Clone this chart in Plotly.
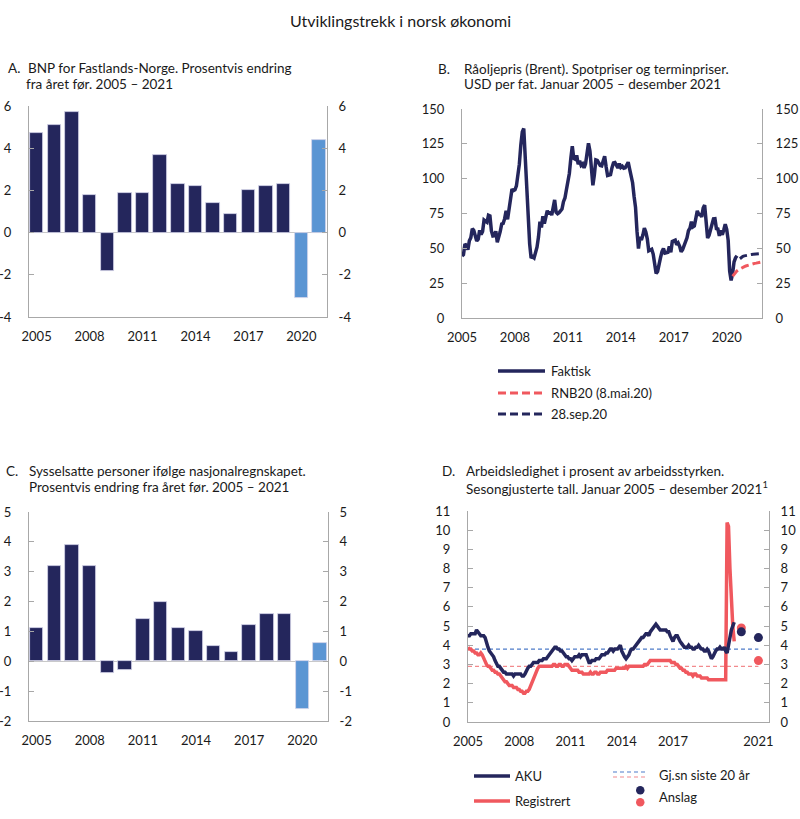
import plotly.graph_objects as go

W, H = 800, 819
FONT = "Lato"
NAVY = "#24265c"
LIGHT = "#5b95d3"
RED = "#f0585e"
AXC = "#a8a8a8"
TXT = "#1a1a1a"

# ---------------- data ----------------
years = list(range(2005, 2022))
bnp = [4.7, 5.1, 5.7, 1.8, -1.8, 1.9, 1.9, 3.7, 2.3, 2.2, 1.4, 0.9, 2.0, 2.2, 2.3, -3.1, 4.4]
sysselsatte = [1.1, 3.2, 3.9, 3.2, -0.4, -0.3, 1.4, 2.0, 1.1, 1.0, 0.5, 0.3, 1.2, 1.6, 1.6, -1.6, 0.6]
forecast_years = [2020, 2021]
ticks_a = [-4, -2, 0, 2, 4, 6]
ticks_c = [-2, -1, 0, 1, 2, 3, 4, 5]

brent_2005 = [44.5, 45.5, 53.1, 51.9, 49.0, 55.4, 57.6, 64.1, 62.9, 58.5, 55.3, 56.6]
brent_2006 = [62.9, 60.0, 62.1, 70.3, 69.8, 68.7, 73.7, 73.2, 62.5, 58.9, 59.1, 62.3]
brent_2007 = [54.3, 57.8, 62.1, 67.5, 67.9, 71.3, 77.0, 70.8, 77.2, 82.4, 92.5, 91.4]
brent_2008 = [92.0, 94.8, 103.3, 110.4, 124.0, 133.5, 136.0, 113.9, 99.1, 72.8, 53.2, 43.0]
brent_2009 = [44.0, 43.1, 46.8, 50.8, 58.1, 69.1, 65.0, 73.0, 67.7, 73.2, 77.0, 74.7]
brent_2010 = [76.2, 73.8, 78.8, 84.8, 75.9, 74.8, 75.6, 77.1, 78.2, 83.5, 86.1, 92.0]
brent_2011 = [96.5, 103.7, 114.6, 123.3, 114.5, 113.9, 116.7, 110.4, 112.8, 109.6, 110.6, 107.7]
brent_2012 = [110.6, 119.7, 125.4, 119.8, 110.3, 95.2, 102.6, 113.4, 113.0, 111.5, 109.5, 109.2]
brent_2013 = [112.3, 116.1, 108.5, 102.3, 102.6, 102.9, 107.9, 111.3, 111.6, 109.1, 107.8, 110.8]
brent_2014 = [108.1, 108.9, 107.5, 107.8, 109.5, 111.8, 106.8, 101.6, 97.1, 87.4, 79.4, 62.3]
brent_2015 = [49.8, 58.1, 55.9, 59.5, 64.6, 61.7, 56.8, 48.2, 48.5, 49.3, 45.9, 38.9]
brent_2016 = [31.9, 33.4, 39.8, 43.3, 47.7, 49.9, 46.6, 47.2, 47.2, 51.4, 47.1, 54.9]
brent_2017 = [55.5, 55.9, 52.5, 53.8, 51.4, 47.6, 49.1, 51.9, 55.2, 57.5, 62.7, 64.4]
brent_2018 = [69.1, 65.3, 66.0, 72.1, 76.9, 74.4, 74.3, 72.5, 78.9, 81.0, 64.8, 57.4]
brent_2019 = [59.4, 64.0, 66.1, 71.2, 71.3, 64.2, 63.9, 59.0, 62.8, 59.7, 63.2, 67.3]
brent_2020 = [63.6, 55.7, 33.7, 27.0, 32.0, 40.3, 43.2, 44.7]
# forward curves
rnb20 = [30.0, 31.5, 32.8, 33.8, 34.6, 35.3, 35.9, 36.4, 36.9, 37.3,
         37.7, 38.0, 38.3, 38.6, 38.9, 39.2, 39.4, 39.7, 39.9, 40.1]   # May 2020 - Dec 2021
sep20 = [42.5, 43.5, 44.2, 44.6, 44.9, 45.1, 45.3, 45.5, 45.6, 45.7,
         45.8, 45.9, 46.0, 46.1, 46.2]                                  # Oct 2020 - Dec 2021

aku_2005 = [4.5, 4.5, 4.6, 4.6, 4.6, 4.6, 4.8, 4.7, 4.6, 4.5, 4.5, 4.5]
aku_2006 = [4.4, 4.1, 3.9, 3.7, 3.6, 3.5, 3.4, 3.2, 3.0, 2.9, 2.9, 2.8]
aku_2007 = [2.7, 2.6, 2.6, 2.5, 2.5, 2.5, 2.5, 2.5, 2.4, 2.5, 2.5, 2.5]
aku_2008 = [2.5, 2.5, 2.4, 2.4, 2.5, 2.7, 2.8, 2.9, 2.9, 3.0, 3.1, 3.1]
aku_2009 = [3.1, 3.1, 3.2, 3.2, 3.2, 3.3, 3.3, 3.3, 3.4, 3.5, 3.6, 3.7]
aku_2010 = [3.8, 3.9, 3.9, 3.8, 3.8, 3.7, 3.7, 3.6, 3.5, 3.4, 3.4, 3.3]
aku_2011 = [3.3, 3.2, 3.3, 3.4, 3.4, 3.4, 3.5, 3.4, 3.5, 3.5, 3.5, 3.5]
aku_2012 = [3.3, 3.1, 3.1, 3.2, 3.2, 3.2, 3.3, 3.3, 3.3, 3.4, 3.5, 3.5]
aku_2013 = [3.5, 3.6, 3.6, 3.7, 3.8, 3.8, 3.7, 3.8, 3.8, 3.8, 3.9, 4.0]
aku_2014 = [3.7, 3.5, 3.4, 3.3, 3.4, 3.5, 3.7, 3.8, 3.8, 3.9, 4.0, 4.1]
aku_2015 = [4.2, 4.3, 4.4, 4.4, 4.5, 4.6, 4.6, 4.5, 4.7, 4.8, 4.9, 5.0]
aku_2016 = [5.1, 5.0, 4.9, 4.8, 4.8, 4.8, 4.8, 4.8, 4.7, 4.7, 4.5, 4.3]
aku_2017 = [4.2, 4.4, 4.5, 4.5, 4.3, 4.2, 4.1, 4.0, 3.9, 3.9, 3.9, 4.0]
aku_2018 = [3.9, 3.9, 3.8, 3.8, 3.9, 3.9, 4.0, 3.9, 3.8, 3.8, 3.7, 3.7]
aku_2019 = [3.8, 3.7, 3.5, 3.3, 3.4, 3.6, 3.7, 3.8, 3.8, 3.9, 3.8, 3.8]
aku_2020 = [3.9, 3.7, 3.6, 4.0, 4.5, 4.8, 5.0, 5.2]

reg_2005 = [3.9, 3.8, 3.8, 3.7, 3.7, 3.6, 3.6, 3.5, 3.5, 3.6, 3.5, 3.3]
reg_2006 = [3.2, 3.0, 2.9, 2.9, 2.8, 2.7, 2.7, 2.6, 2.6, 2.5, 2.5, 2.4]
reg_2007 = [2.3, 2.2, 2.1, 2.1, 2.0, 1.9, 1.9, 1.9, 1.8, 1.8, 1.8, 1.7]
reg_2008 = [1.7, 1.6, 1.6, 1.5, 1.5, 1.6, 1.6, 1.7, 1.9, 2.0, 2.2, 2.4]
reg_2009 = [2.6, 2.8, 2.9, 2.9, 2.9, 2.9, 2.9, 2.9, 2.9, 2.9, 2.9, 2.9]
reg_2010 = [3.0, 3.0, 2.9, 2.9, 3.0, 3.0, 2.9, 2.9, 3.0, 3.0, 3.0, 2.9]
reg_2011 = [2.8, 2.7, 2.7, 2.7, 2.7, 2.7, 2.6, 2.6, 2.6, 2.5, 2.5, 2.5]
reg_2012 = [2.5, 2.5, 2.6, 2.5, 2.5, 2.6, 2.6, 2.5, 2.5, 2.6, 2.6, 2.6]
reg_2013 = [2.6, 2.6, 2.7, 2.7, 2.7, 2.7, 2.7, 2.7, 2.8, 2.8, 2.8, 2.8]
reg_2014 = [2.8, 2.8, 2.8, 2.9, 2.8, 2.9, 2.9, 2.9, 2.9, 2.9, 2.9, 2.9]
reg_2015 = [2.9, 2.9, 2.9, 2.9, 3.0, 3.0, 3.0, 3.1, 3.2, 3.2, 3.2, 3.2]
reg_2016 = [3.2, 3.2, 3.2, 3.2, 3.2, 3.2, 3.2, 3.2, 3.2, 3.2, 3.2, 3.1]
reg_2017 = [3.1, 3.1, 3.0, 3.0, 2.9, 2.8, 2.8, 2.7, 2.7, 2.6, 2.6, 2.5]
reg_2018 = [2.5, 2.5, 2.4, 2.5, 2.5, 2.4, 2.4, 2.4, 2.3, 2.3, 2.3, 2.3]
reg_2019 = [2.3, 2.2, 2.2, 2.2, 2.2, 2.2, 2.2, 2.2, 2.2, 2.2, 2.2, 2.2]
reg_2020 = [2.2, 2.2, 10.4, 10.2, 8.0, 6.0, 5.0, 4.2]

avg_aku = 3.8
avg_reg = 2.9
anslag_aku = [4.7, 4.4]
anslag_reg = [4.9, 3.2]

# ---------------- assemble ----------------
def monthly(series_list, start_year=2005, start_month=1):
    vals = [v for s in series_list for v in s]
    xs = [start_year + (start_month - 1 + i) / 12 for i in range(len(vals))]
    return xs, vals

bx, by = monthly([brent_2005, brent_2006, brent_2007, brent_2008, brent_2009, brent_2010,
                  brent_2011, brent_2012, brent_2013, brent_2014, brent_2015, brent_2016,
                  brent_2017, brent_2018, brent_2019, brent_2020])
rx, ry = monthly([rnb20], 2020, 5)
sx, sy = monthly([sep20], 2020, 10)
ax_, ay = monthly([aku_2005, aku_2006, aku_2007, aku_2008, aku_2009, aku_2010, aku_2011,
                   aku_2012, aku_2013, aku_2014, aku_2015, aku_2016, aku_2017, aku_2018,
                   aku_2019, aku_2020])
gx, gy = monthly([reg_2005, reg_2006, reg_2007, reg_2008, reg_2009, reg_2010, reg_2011,
                  reg_2012, reg_2013, reg_2014, reg_2015, reg_2016, reg_2017, reg_2018,
                  reg_2019, reg_2020])
# annual forecast dots placed one slot right (as in the source chart)
dot_x = [y + 1 for y in forecast_years]

bar_colors = [LIGHT if y >= 2020 else NAVY for y in years]

def px(x):
    return x / W

def py(y):
    return 1 - y / H

fig = go.Figure()

# Panel A
fig.add_trace(go.Bar(x=years, y=bnp, marker=dict(color=bar_colors, line=dict(color="#d4d4ea", width=0.8)),
                     width=0.76, xaxis="x", yaxis="y", showlegend=False))
# Panel C
fig.add_trace(go.Bar(x=years, y=sysselsatte, marker=dict(color=bar_colors, line=dict(color="#d4d4ea", width=0.8)),
                     width=0.76, xaxis="x3", yaxis="y5", showlegend=False))
# Panel B
fig.add_trace(go.Scatter(x=bx, y=by, mode="lines", line=dict(color=NAVY, width=3.5),
                         xaxis="x2", yaxis="y3", showlegend=False))
fig.add_trace(go.Scatter(x=rx, y=ry, mode="lines", line=dict(color=RED, width=3, dash="8px,4px"),
                         xaxis="x2", yaxis="y3", showlegend=False))
fig.add_trace(go.Scatter(x=sx, y=sy, mode="lines", line=dict(color=NAVY, width=3, dash="8px,4px"),
                         xaxis="x2", yaxis="y3", showlegend=False))
# Panel D
fig.add_trace(go.Scatter(x=[2005, 2022], y=[avg_aku, avg_aku], mode="lines",
                         line=dict(color="#4f7cc9", width=1.2, dash="4px,3px"),
                         xaxis="x4", yaxis="y7", showlegend=False))
fig.add_trace(go.Scatter(x=[2005, 2022], y=[avg_reg, avg_reg], mode="lines",
                         line=dict(color="#f28a8d", width=1.2, dash="4px,3px"),
                         xaxis="x4", yaxis="y7", showlegend=False))
fig.add_trace(go.Scatter(x=gx, y=gy, mode="lines", line=dict(color=RED, width=3.5),
                         xaxis="x4", yaxis="y7", showlegend=False))
fig.add_trace(go.Scatter(x=ax_, y=ay, mode="lines", line=dict(color=NAVY, width=3.5),
                         xaxis="x4", yaxis="y7", showlegend=False))
fig.add_trace(go.Scatter(x=dot_x, y=anslag_reg, mode="markers", marker=dict(color=RED, size=9),
                         xaxis="x4", yaxis="y7", showlegend=False))
fig.add_trace(go.Scatter(x=dot_x, y=anslag_aku, mode="markers", marker=dict(color=NAVY, size=9),
                         xaxis="x4", yaxis="y7", showlegend=False))
# dummy traces so the right-hand axes are drawn
for xa, ya in [("x", "y2"), ("x2", "y4"), ("x3", "y6"), ("x4", "y8")]:
    fig.add_trace(go.Scatter(x=[None], y=[None], xaxis=xa, yaxis=ya, showlegend=False, hoverinfo="skip"))

tickfont = dict(family=FONT, size=13, color=TXT)

def xax(dom, rng, tv, tt, anchor):
    return dict(domain=dom, range=rng, tickvals=tv, ticktext=tt, anchor=anchor, showline=True,
                linecolor=AXC, linewidth=1, showgrid=False, zeroline=False, ticks="",
                tickfont=tickfont, ticklabelstandoff=7, fixedrange=True, automargin=False)

def yax(dom, rng, dt, anchor, side="left", overlay=None, zl=False, standoff=10, tv=None):
    d = dict(domain=dom, range=rng, dtick=dt, tick0=0, anchor=anchor, side=side, showline=True,
             linecolor=AXC, linewidth=1, showgrid=False, zeroline=zl, zerolinecolor="#c8c8c8",
             zerolinewidth=1, ticks="inside", ticklen=5, tickcolor=AXC, tickfont=tickfont,
             ticklabelstandoff=standoff, fixedrange=True, automargin=False)
    if tv is not None:
        d["tickmode"] = "array"
        d["tickvals"] = tv
        d["ticktext"] = [str(v).replace("\u2212", "-") for v in tv]
    if overlay:
        d["overlaying"] = overlay
    return d

yrs3 = [2005, 2008, 2011, 2014, 2017, 2020]
xdA = [px(29), px(327)]
ydA = [py(317), py(106)]
xdB = [px(462), px(762)]
ydB = [py(318), py(109)]
xdC = [px(29), px(328)]
ydC = [py(721), py(512)]
xdD = [px(468), px(769)]
ydD = [py(722), py(511)]

fig.update_layout(
    width=W, height=H, margin=dict(l=0, r=0, t=0, b=0, autoexpand=False),
    paper_bgcolor="white", plot_bgcolor="white", bargap=0,
    font=dict(family=FONT, size=13, color=TXT),
    xaxis=xax(xdA, [2004.57, 2021.45], yrs3, [str(v) for v in yrs3], "y"),
    yaxis=yax(ydA, [-4, 6], 2, "x", zl=True, standoff=14, tv=ticks_a),
    yaxis2=yax(ydA, [-4, 6], 2, "x", side="right", overlay="y", standoff=8, tv=ticks_a),
    xaxis2=xax(xdB, [2005, 2022], yrs3, [str(v) for v in yrs3], "y3"),
    yaxis3=yax(ydB, [0, 150], 25, "x2", standoff=14),
    yaxis4=yax(ydB, [0, 150], 25, "x2", side="right", overlay="y3", standoff=10),
    xaxis3=xax(xdC, [2004.57, 2021.45], yrs3, [str(v) for v in yrs3], "y5"),
    yaxis5=yax(ydC, [-2, 5], 1, "x3", zl=True, standoff=14, tv=ticks_c),
    yaxis6=yax(ydC, [-2, 5], 1, "x3", side="right", overlay="y5", standoff=8, tv=ticks_c),
    xaxis4=xax(xdD, [2005, 2022.62], [2005, 2008, 2011, 2014, 2017, 2022],
               ["2005", "2008", "2011", "2014", "2017", "2021"], "y7"),
    yaxis7=yax(ydD, [0, 11], 1, "x4", standoff=14),
    yaxis8=yax(ydD, [0, 11], 1, "x4", side="right", overlay="y7", standoff=8),
)

ann = []
def text(x, y, s, size=13.5, anchor="left"):
    ann.append(dict(x=px(x), y=py(y), xref="paper", yref="paper", text=s, showarrow=False,
                    xanchor=anchor, yanchor="middle", font=dict(family=FONT, size=size, color=TXT)))

text(400, 20, "Utviklingstrekk i norsk økonomi", size=16, anchor="center")
# Panel titles
text(6, 68, "A.")
text(26, 68, "BNP for Fastlands-Norge. Prosentvis endring")
text(24, 84, "fra året før. 2005 – 2021")
text(436, 69, "B.")
text(462, 69, "Råoljepris (Brent). Spotpriser og terminpriser.")
text(462, 84, "USD per fat. Januar 2005 – desember 2021")
text(4, 471, "C.")
text(27, 471, "Sysselsatte personer ifølge nasjonalregnskapet.")
text(27, 487, "Prosentvis endring fra året før. 2005 – 2021")
text(440, 471, "D.")
text(464, 471, "Arbeidsledighet i prosent av arbeidsstyrken.")
text(464, 488, "Sesongjusterte tall. Januar 2005 – desember 2021<sup>1</sup>")

# Legend B
shapes = []
def seg(x0, x1, y, color, width, dash="solid"):
    shapes.append(dict(type="line", xref="paper", yref="paper", x0=px(x0), x1=px(x1), y0=py(y), y1=py(y),
                       line=dict(color=color, width=width, dash=dash)))

seg(498, 545, 371, NAVY, 3.5)
text(549, 371, "Faktisk", size=13)
seg(498, 545, 393, RED, 3, "8px,4px")
text(549, 393, "RNB20 (8.mai.20)", size=13)
seg(498, 545, 414, NAVY, 3, "8px,4px")
text(549, 414, "28.sep.20", size=13)

# Legend D
seg(474, 510, 776, NAVY, 3.5)
text(513, 776, "AKU", size=13)
seg(474, 510, 801, RED, 3.5)
text(513, 801, "Registrert", size=13)
seg(613, 646, 772, "#4f7cc9", 1.2, "4px,3px")
seg(613, 646, 777, "#f28a8d", 1.2, "4px,3px")
text(657, 775, "Gj.sn siste 20 år", size=13)
shapes.append(dict(type="circle", xref="paper", yref="paper", x0=px(636), x1=px(644.5), y0=py(786), y1=py(794.5),
                   fillcolor=NAVY, line=dict(width=0)))
shapes.append(dict(type="circle", xref="paper", yref="paper", x0=px(636), x1=px(644.5), y0=py(798), y1=py(806.5),
                   fillcolor=RED, line=dict(width=0)))
text(657, 797, "Anslag", size=13)

fig.update_layout(annotations=ann, shapes=shapes)
fig.write_html("out.html", config={"displayModeBar": False},
               post_script="document.body.style.margin='0';document.body.style.overflow='hidden';")
